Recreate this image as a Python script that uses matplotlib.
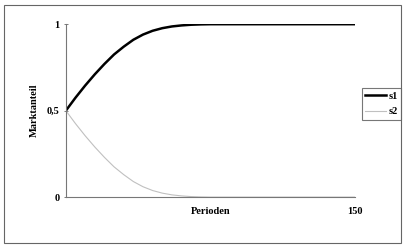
import matplotlib.pyplot as plt
from matplotlib.patches import Rectangle

# Perioden and market shares
perioden = [0, 5, 10, 15, 20, 25, 30, 35, 40, 45, 50, 55, 60, 65, 70, 75,
            80, 90, 100, 110, 120, 130, 140, 150]
s1 = [0.50, 0.575, 0.645, 0.71, 0.77, 0.825, 0.87, 0.91, 0.94, 0.962, 0.977,
      0.987, 0.993, 0.997, 0.999, 1.0, 1.0, 1.0, 1.0, 1.0, 1.0, 1.0, 1.0, 1.0]
s2 = [1 - v for v in s1]

plt.rcParams['font.family'] = 'Liberation Serif'
plt.rcParams['font.weight'] = 'bold'
plt.rcParams['axes.labelweight'] = 'bold'

fig = plt.figure(figsize=(4.04, 2.47), dpi=100)
ax = fig.add_axes([0.163, 0.202, 0.716, 0.700])

ax.plot(perioden, s1, color='black', lw=1.8, label='s1')
ax.plot(perioden, s2, color='#c0c0c0', lw=0.8, label='s2')

ax.set_xlim(0, 150)
ax.set_ylim(0, 1)
ax.set_yticks([0, 0.5, 1])
ax.set_yticklabels(['0', '0,5', '1'], fontsize=7.5)
ax.set_xticks([150])
ax.set_xticklabels(['150'], fontsize=7.5)
ax.tick_params(axis='x', length=0, pad=7)
ax.tick_params(axis='y', length=3, width=0.6, direction='inout', color='#666666', pad=3)
for side in ['top', 'right']:
    ax.spines[side].set_visible(False)
for side in ['left', 'bottom']:
    ax.spines[side].set_color('#777777')
    ax.spines[side].set_linewidth(0.8)

ax.set_xlabel('Perioden', fontsize=7.5, labelpad=-6)
ax.set_ylabel('Marktanteil', fontsize=7.5, labelpad=6)

leg = ax.legend(loc='center left', bbox_to_anchor=(0.895, 0.58),
                bbox_transform=fig.transFigure, fontsize=7.5, frameon=True,
                fancybox=False, handlelength=2.0, handletextpad=0.2,
                borderpad=0.35, labelspacing=0.6, borderaxespad=0)
leg.get_frame().set_edgecolor('#555555')
leg.get_frame().set_linewidth(0.8)

fig.patches.append(Rectangle((0.01, 0.016), 0.983, 0.964, transform=fig.transFigure,
                             fill=False, edgecolor='#666666', lw=0.8))

fig.savefig('out.png', dpi=100)
